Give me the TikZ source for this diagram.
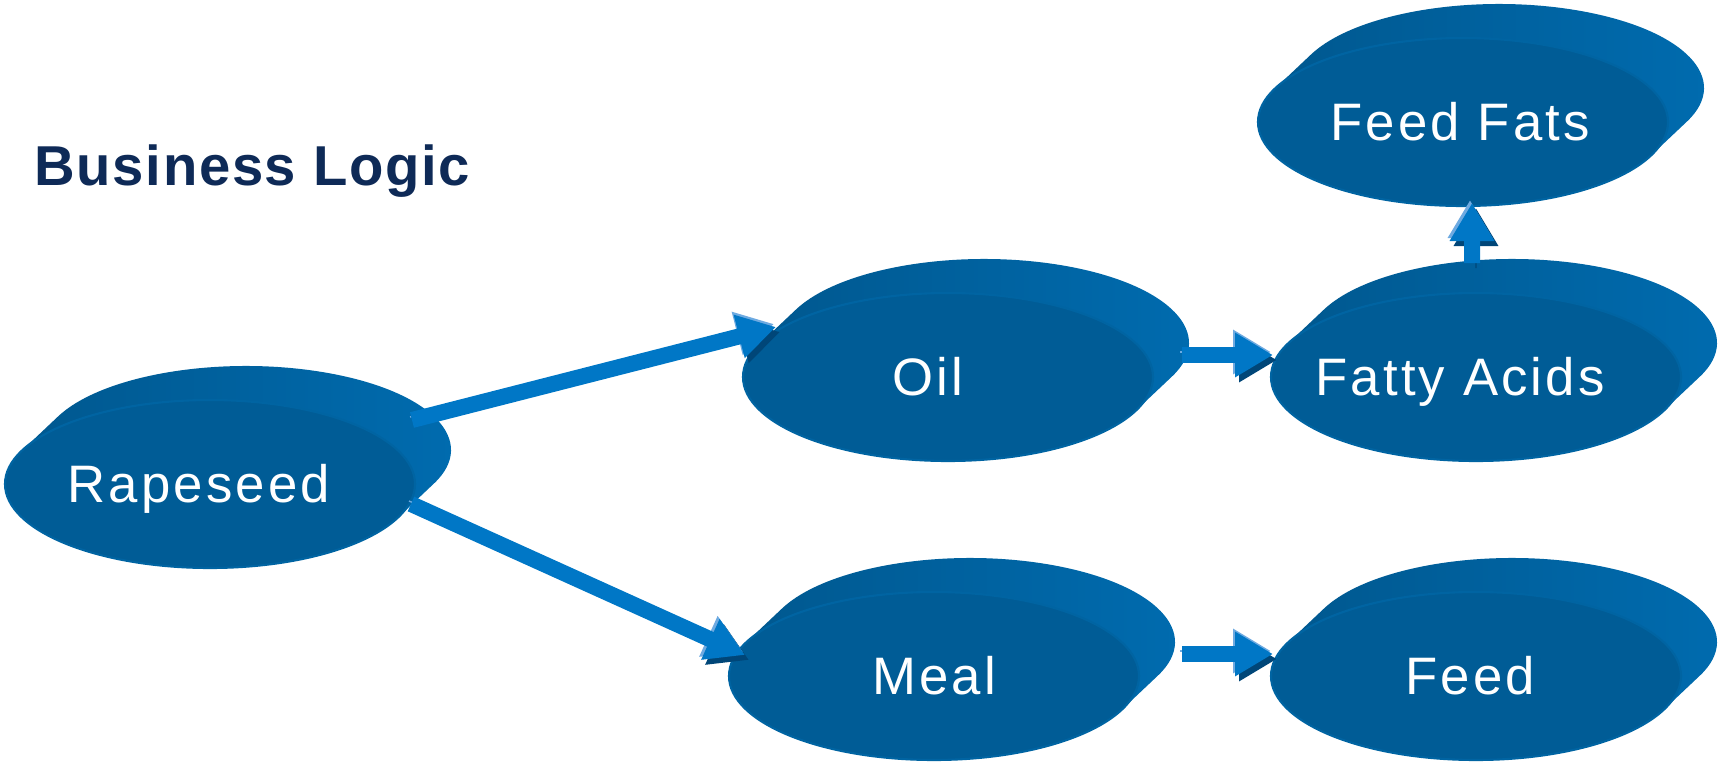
\documentclass[tikz,border=0pt]{standalone}
\usepackage{fontspec}
\newfontfamily\dishfont[LetterSpace=6]{Liberation Sans}
\newfontfamily\headfont[LetterSpace=3]{Liberation Sans}
\usetikzlibrary{shapes.geometric,arrows.meta,backgrounds}
\definecolor{dishface}{RGB}{0,92,150}
\definecolor{dishedge}{RGB}{0,100,162}
\definecolor{rimdark}{RGB}{0,74,122}
\definecolor{rimleft}{RGB}{0,86,140}
\definecolor{rimright}{RGB}{0,108,176}
\definecolor{flowmain}{RGB}{0,119,198}
\definecolor{flowlight}{RGB}{110,170,225}
\definecolor{flowdark}{RGB}{0,70,120}
\definecolor{headblue}{RGB}{14,42,87}
\begin{document}
\begin{tikzpicture}[
	dish/.style={ellipse, minimum width=4.1cm, minimum height=1.68cm, inner xsep=-2mm, inner ysep=0pt,
		fill=dishface, draw=dishedge, line width=0.6pt, text=white,
		font=\dishfont\fontsize{15}{18}\selectfont, text height=10.8pt, text depth=0pt},
	rim/.style={left color=rimleft, middle color=rimdark, right color=rimright},
	flow/.style={line width=1.6mm, draw=flowmain, -{Triangle[width=4.2mm,length=3.8mm]},
		preaction={draw=flowdark, transform canvas={shift={(0.4mm,-0.5mm)}}},
		preaction={draw=flowlight, transform canvas={shift={(-0.2mm,0.3mm)}}}}
	]
	\useasboundingbox (0,0) rectangle (17.19,-7.62); % Rand wie Vorlage
	\node[anchor=base west, text=headblue, font=\headfont\bfseries\fontsize{16}{19}\selectfont] (title) at (0.22,-1.85) {Business Logic};
	\node[dish] (rape) at (2.10,-4.84) {\hspace*{-2.2mm}Rapeseed};
	\node[dish] (oil) at (9.48,-3.77) {\hspace*{-4mm}Oil};
	\node[dish] (fatty) at (14.76,-3.77) {\hspace*{-3.2mm}Fatty Acids};
	\node[dish] (fats) at (14.63,-1.22) {\hspace*{-0.6mm}Feed Fats};
	\node[dish] (meal) at (9.34,-6.76) {Meal};
	\node[dish] (feed) at (14.76,-6.76) {\hspace*{-1.2mm}Feed};
	% Raender hinter den Scheiben
	\begin{scope}[on background layer]
		\foreach \n in {rape,oil,fatty,fats,meal,feed}
			\shade[rim] ([shift={(-23.5:2.05 and 0.84)}]\n.center) ++(0.36,0.34)
				arc[start angle=-23.5, end angle=156.5, x radius=2.05, y radius=0.84] -- ++(-0.36,-0.34)
				arc[start angle=156.5, end angle=336.5, x radius=2.05, y radius=0.84] -- cycle;
	\end{scope}
	\draw[flow] ([shift={(2.02,0.64)}]rape.center) -- ([shift={(-1.72,0.50)}]oil.center);
	\draw[flow] ([shift={(2.01,-0.20)}]rape.center) -- ([shift={(-1.89,0.21)}]meal.center);
	\draw[flow] ([shift={(2.34,0.22)}]oil.center) -- ([shift={(-2.03,0.22)}]fatty.center);
	\draw[flow] ([shift={(2.48,0.22)}]meal.center) -- ([shift={(-2.03,0.22)}]feed.center);
	\draw[flow] ([shift={(-0.04,1.14)}]fatty.center) -- ([shift={(0.09,-0.81)}]fats.center);
\end{tikzpicture}
\end{document}
